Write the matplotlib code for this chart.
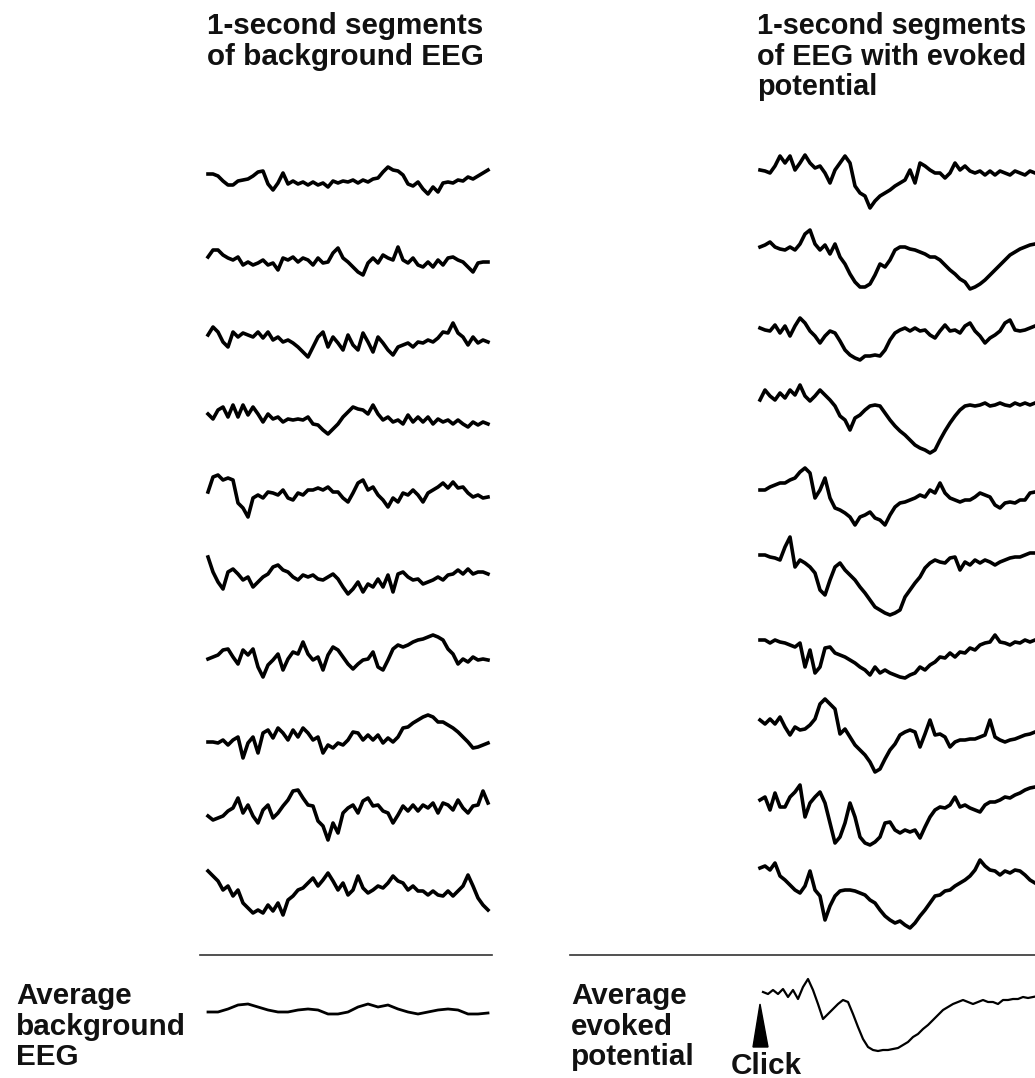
import numpy as np
import matplotlib.pyplot as plt

# EEG sweeps, amplitude in arbitrary units (positive = up), 1 s each
bg_1 = [6, 6, 4, -1, -5, -5, -1, 0, 1, 4, 8, 9, -4, -10, -3, 7, -4, -1, -4, -2,
        -5, -2, -5, -3, -7, -1, -3, -1, -2, 0, -3, 0, -2, 1, 2, 8, 13, 10, 9, 5,
        -4, -6, -2, -9, -14, -7, -12, -3, -2, -3, 0, -1, 3, 1, 4, 7, 10]
bg_2 = [3, 10, 10, 5, 2, 0, 3, -5, -2, -5, -3, 0, -5, -3, -10, 2, 0, 3, -2, 2,
        0, -5, 2, -3, -2, 7, 12, 2, -2, -7, -12, -15, -3, 2, -3, 5, 2, 0, 13, 0,
        -3, 2, -5, -7, -2, -7, 0, -5, 2, 3, 0, -2, -7, -12, -3, -2, -2]
bg_3 = [5, 13, 8, -2, -7, 8, 3, 7, 5, 3, 8, 2, 8, 0, 3, -2, 0, -3, -7, -12,
        -17, -7, 3, 8, -7, 3, -3, -10, 5, -5, -10, 7, -2, -12, 3, -3, -10, -15, -7, -5,
        -3, -7, -2, -3, 0, -2, 2, 8, 7, 17, 7, 3, -5, 3, -3, 0, -2]
bg_4 = [3, -2, 7, 10, 0, 12, 0, 12, 2, 10, 3, -5, 3, -2, 0, -5, -2, -3, -2, -3,
        0, -7, -8, -13, -17, -12, -7, 0, 5, 10, 8, 7, 3, 12, 3, -3, 0, -5, -3, -7,
        2, -5, 0, -5, 0, -7, -2, -5, -3, -7, -3, -7, -10, -5, -8, -5, -7]
bg_5 = [3, 18, 20, 15, 17, 15, -8, -13, -22, -3, 0, -3, 3, 2, 0, 5, -3, -5, 2, 0,
        5, 5, 7, 5, 8, 3, 3, -3, -7, 2, 12, 15, 5, 8, 0, -5, -12, -3, -7, 2,
        0, 5, 0, -7, 2, 5, 8, 12, 7, 13, 7, 8, 2, -2, 0, -3, -2]
bg_6 = [20, 5, -5, -12, 5, 8, 3, -3, 0, -10, -5, 0, 3, 10, 12, 7, 5, 0, -3, 2,
        0, 2, -2, -3, 0, 3, -2, -10, -17, -12, -5, -15, -7, -10, -2, -10, 2, -15, 3, 5,
        0, -3, -2, -7, -5, -3, 0, -3, 2, 3, 7, 3, 8, 3, 5, 5, 3]
bg_7 = [-2, 0, 2, 7, 8, 0, -7, 7, 2, 8, -10, -20, -8, -3, 3, -13, -2, 5, 3, 15,
        3, -3, 0, -13, 2, 10, 7, 0, -7, -12, -7, -3, -2, 5, -10, -13, -3, 8, 12, 10,
        12, 15, 17, 18, 20, 22, 20, 17, 8, 3, -7, -2, -5, 0, -3, -2, -3]
bg_8 = [-2, -2, -3, 0, -5, 0, 3, -18, -3, 3, -13, 7, 10, 2, 12, 7, 0, 10, 3, 12,
        7, 0, 3, -13, -5, -8, -3, -5, 0, 8, 7, 0, 5, 0, 5, -3, 2, -2, 3, 12,
        13, 17, 20, 23, 25, 23, 18, 18, 15, 12, 8, 3, -2, -8, -7, -5, -3]
bg_9 = [-3, -7, -5, -3, 2, 5, 15, 0, 8, -3, -10, 3, 8, -5, 0, 7, 13, 22, 23, 15,
        8, 7, -8, -13, -27, -10, -20, 0, 5, 8, 0, 12, 15, 7, 8, 2, 0, -10, -2, 7,
        2, 8, 2, 8, 5, 10, 0, 10, 8, 3, 13, 5, 0, 7, 8, 22, 10]
bg_10 = [22, 17, 12, 3, 7, -3, 3, -10, -15, -20, -17, -20, -12, -18, -10, -22, -7, -3, 3, 5,
         10, 15, 7, 13, 20, 12, 3, 10, -2, 3, 17, 5, 0, 3, 7, 5, 10, 17, 12, 10,
         3, 7, 2, 2, -2, 2, -2, -3, 2, -3, 2, 7, 18, 7, -5, -12, -17]

ep_1 = [3, 2, 0, 7, 17, 10, 17, 3, 10, 18, 10, 5, 7, 0, -10, 3, 10, 17, 10, -13,
        -20, -23, -35, -28, -23, -20, -17, -13, -10, -7, 3, -10, 10, 7, 3, 0, 0, -5, 0, 10,
        3, 7, 2, 0, 2, -2, 2, -2, 2, 0, -2, 2, 0, -2, 2, 0]
ep_2 = [0, 2, 5, 0, -2, -3, 0, -3, 3, 13, 17, 3, -3, 2, -7, 3, -10, -17, -27, -35,
        -40, -40, -37, -28, -17, -20, -13, -3, 0, 0, -2, -3, -5, -7, -10, -10, -13, -18, -23, -27,
        -32, -35, -42, -40, -37, -33, -28, -23, -18, -13, -8, -5, -2, 0, 2, 3]
ep_3 = [0, -2, -3, 3, -5, 2, -8, 2, 10, 5, -3, -8, -15, -8, -3, -5, -13, -22, -27, -30,
        -32, -28, -28, -27, -28, -22, -12, -5, -2, 0, -3, 0, -3, -2, -7, -10, -3, 3, -3, -2,
        -5, 2, 5, -3, -8, -15, -10, -7, -3, 5, 8, -2, -3, -2, 0, 2]
ep_4 = [-2, 8, 2, -2, 5, 0, 8, 3, 13, 2, -3, 2, 8, 3, -2, -8, -18, -22, -32, -20,
        -17, -12, -8, -7, -8, -15, -22, -28, -33, -37, -42, -47, -50, -52, -55, -52, -42, -33, -25, -18,
        -12, -8, -7, -8, -7, -5, -8, -7, -5, -7, -8, -5, -7, -5, -7, -5]
ep_5 = [0, 0, 3, 5, 7, 7, 10, 12, 18, 22, 17, -8, 0, 12, -8, -18, -20, -23, -27, -35,
        -27, -25, -22, -28, -30, -35, -25, -17, -13, -12, -10, -8, -5, -7, 0, -3, 7, -3, -8, -10,
        -12, -10, -10, -7, -3, -5, -7, -15, -18, -13, -12, -13, -10, -10, -3, -2]
ep_6 = [0, 0, -2, -3, -5, 8, 18, -12, -5, -8, -12, -18, -35, -40, -25, -12, -8, -15, -20, -25,
        -32, -38, -45, -52, -55, -58, -60, -58, -55, -42, -35, -28, -22, -13, -8, -5, -7, -8, -3, -2,
        -15, -7, -10, -5, -8, -5, -7, -10, -7, -5, -3, -2, -2, 0, 2, 2]
ep_7 = [0, 0, -3, 0, -2, -3, -5, -7, -3, -27, -10, -33, -27, -8, -7, -13, -15, -17, -20, -23,
        -27, -30, -35, -27, -33, -30, -33, -35, -37, -38, -35, -33, -27, -30, -25, -22, -17, -18, -13, -17,
        -12, -13, -8, -10, -5, -3, -2, 5, -2, -3, -5, -2, -3, 0, -2, 0]
ep_8 = [2, -2, 3, -2, 5, -5, -13, -5, -8, -7, -3, 3, 18, 23, 18, 13, -12, -7, -15, -23,
        -28, -33, -40, -50, -47, -37, -28, -22, -13, -10, -8, -10, -25, -12, 2, -13, -12, -15, -25, -20,
        -18, -18, -17, -17, -15, -13, 2, -15, -18, -20, -18, -17, -15, -13, -12, -10]
ep_9 = [0, 3, -10, 7, -7, -7, 3, 8, 15, -17, -3, 3, 8, -3, -23, -43, -37, -23, -3, -17,
        -37, -43, -45, -42, -37, -23, -22, -30, -33, -30, -32, -30, -38, -27, -17, -10, -7, -8, -5, 3,
        -7, -5, -8, -10, -12, -5, -2, -2, 0, 3, 2, 5, 7, 10, 12, 13]
ep_10 = [0, 2, -2, 5, -8, -12, -17, -22, -25, -18, -3, -22, -28, -52, -38, -28, -23, -22, -22, -23,
         -25, -27, -32, -35, -42, -48, -52, -55, -53, -57, -60, -55, -48, -42, -35, -28, -27, -23, -22, -18,
         -15, -12, -8, -2, 8, 2, -2, -3, -7, -3, -5, -2, -3, -7, -12, -15]

avg_bg = [0, 0, 3, 7, 8, 5, 2, 0, 0, 2, 3, 2, -2, -2, 0, 5, 8, 5, 7, 3,
          0, -2, 0, 2, 3, 2, -2, -2, -1]
avg_ep = [0, -2, 2, -2, 3, -5, 2, -7, 5, 13, 2, -12, -27, -22, -17, -12, -8, -10, -22, -35,
          -47, -55, -58, -59, -58, -58, -57, -56, -53, -50, -45, -42, -37, -33, -28, -23, -18, -15, -12, -10,
          -8, -10, -12, -10, -8, -10, -10, -12, -8, -8, -7, -7, -5, -6, -5, -4]

bg_sweeps = [bg_1, bg_2, bg_3, bg_4, bg_5, bg_6, bg_7, bg_8, bg_9, bg_10]
ep_sweeps = [ep_1, ep_2, ep_3, ep_4, ep_5, ep_6, ep_7, ep_8, ep_9, ep_10]

# vertical placement of each sweep on the page (pixels from top)
bg_rows = [180, 260, 340, 417, 495, 577, 657, 740, 813, 893]
ep_rows = [173, 247, 328, 398, 490, 555, 640, 722, 800, 868]

fig = plt.figure(figsize=(10.35, 10.78), dpi=100)
ax = fig.add_axes([0, 0, 1, 1])
ax.set_xlim(0, 1035)
ax.set_ylim(1078, 0)
ax.axis('off')

lw = 2.6
for row, sweep in zip(bg_rows, bg_sweeps):
    x = np.linspace(208, 488, len(sweep))
    ax.plot(x, row - np.array(sweep), color='black', lw=lw, solid_joinstyle='round')

for row, sweep in zip(ep_rows, ep_sweeps):
    x = np.linspace(760, 1035, len(sweep))
    ax.plot(x, row - np.array(sweep), color='black', lw=lw, solid_joinstyle='round')

# separators above the averages
ax.plot([200, 492], [955, 955], color='#333333', lw=1.2)
ax.plot([570, 1035], [955, 955], color='#333333', lw=1.2)

# averaged traces
x = np.linspace(208, 488, len(avg_bg))
ax.plot(x, 1012 - np.array(avg_bg), color='black', lw=2.0)
x = np.linspace(763, 1038, len(avg_ep))
ax.plot(x, 992 - np.array(avg_ep), color='black', lw=1.6)

# stimulus marker
ax.fill([753, 760, 768], [1047, 1004, 1047], color='black')

font = dict(family='Liberation Sans', weight='bold', size=21.3, color='#111111',
            linespacing=1.12, va='top', ha='left')
ax.text(207, 12, '1-second segments\nof background EEG', **font)
ax.text(757, 12, '1-second segments\nof EEG with evoked\npotential',
        **{**font, 'size': 20.8})
ax.text(16, 982, 'Average\nbackground\nEEG', **font)
ax.text(571, 982, 'Average\nevoked\npotential', **font)
ax.text(731, 1052, 'Click', **font)

fig.savefig('out.png', dpi=100)
